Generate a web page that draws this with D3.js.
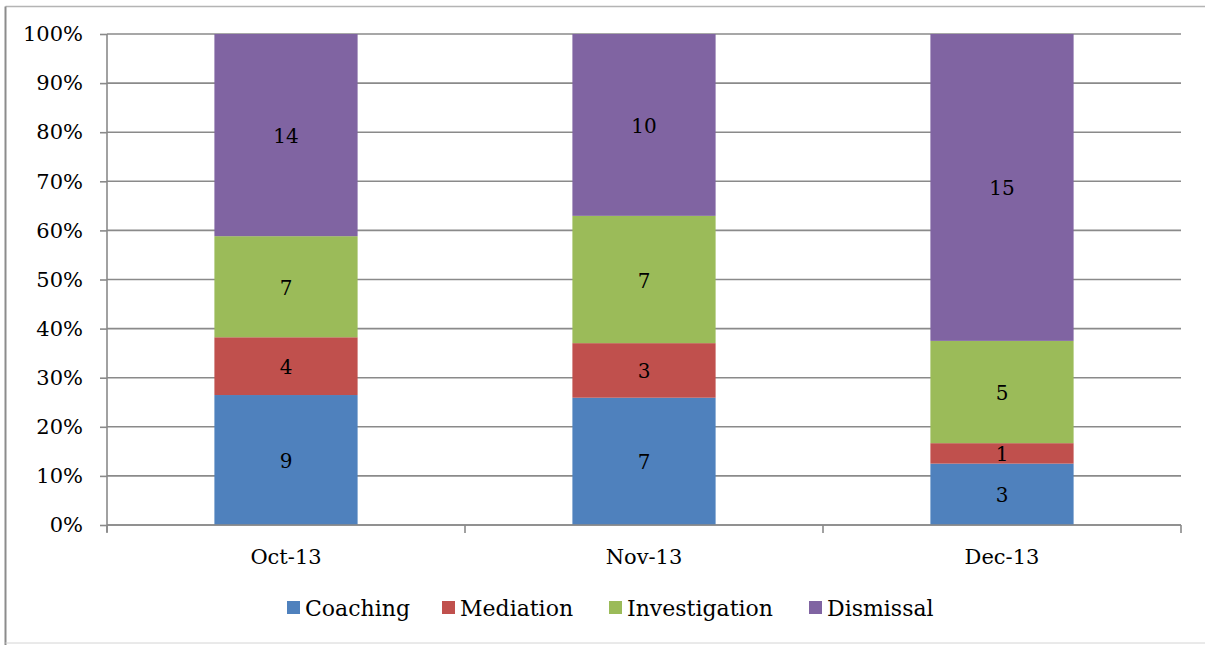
<!DOCTYPE html>
<html>
<head>
<meta charset="utf-8">
<script src="https://cdn.jsdelivr.net/npm/d3@7"></script>
<style>
  html, body { margin: 0; padding: 0; background: #fff; }
  svg { display: block; }
</style>
</head>
<body>
<svg id="chart" width="1205" height="645"></svg>
<script>
// Monthly case outcomes, shown as a 100% stacked column chart
const months = ["Oct-13", "Nov-13", "Dec-13"];
const seriesNames = ["Coaching", "Mediation", "Investigation", "Dismissal"];
const coaching = [9, 7, 3];
const mediation = [4, 3, 1];
const investigation = [7, 7, 5];
const dismissal = [14, 10, 15];
const seriesColors = ["#4F81BD", "#C0504D", "#9BBB59", "#8064A2"];
const yTicks = [0, 0.1, 0.2, 0.3, 0.4, 0.5, 0.6, 0.7, 0.8, 0.9, 1.0];

const FONT = "'DejaVu Serif', 'Liberation Serif', serif";

const seriesValues = [coaching, mediation, investigation, dismissal];
const rows = months.map((m, i) => {
  const r = { month: m };
  seriesNames.forEach((s, j) => { r[s] = seriesValues[j][i]; });
  return r;
});

const svg = d3.select("#chart");
const W = 1205, H = 645;
const plot = { left: 107, right: 1181, top: 34, bottom: 525 };
const GRID = "#8a8a8a";

// outer chart frame
svg.append("line").attr("x1", 5.5).attr("x2", W).attr("y1", 6.5).attr("y2", 6.5)
  .attr("stroke", "#b4b4b4").attr("stroke-width", 1.5);
svg.append("line").attr("x1", 5.5).attr("x2", 5.5).attr("y1", 6.5).attr("y2", H)
  .attr("stroke", "#8c8c8c").attr("stroke-width", 2);
svg.append("line").attr("x1", 5.5).attr("x2", W).attr("y1", 643).attr("y2", 643)
  .attr("stroke", "#d4d4d4").attr("stroke-width", 1);

const x = d3.scaleBand().domain(months).range([plot.left, plot.right]).paddingInner(0.6).paddingOuter(0.3);
const y = d3.scaleLinear().domain([0, 1]).range([plot.bottom, plot.top]);

// horizontal gridlines
svg.append("g").selectAll("line").data(yTicks).join("line")
  .attr("x1", plot.left).attr("x2", plot.right)
  .attr("y1", d => y(d)).attr("y2", d => y(d))
  .attr("stroke", GRID).attr("stroke-width", 1.6);

// stacked, normalised bars
const stack = d3.stack().keys(seriesNames).offset(d3.stackOffsetExpand);
const layers = stack(rows);

svg.append("g").selectAll("g").data(layers).join("g")
  .attr("fill", (d, i) => seriesColors[i])
  .selectAll("rect").data(d => d).join("rect")
  .attr("x", d => x(d.data.month))
  .attr("width", x.bandwidth())
  .attr("y", d => y(d[1]))
  .attr("height", d => y(d[0]) - y(d[1]));

// value labels inside each segment
layers.forEach(layer => {
  svg.append("g").selectAll("text").data(layer).join("text")
    .attr("x", d => x(d.data.month) + x.bandwidth() / 2)
    .attr("y", d => (y(d[0]) + y(d[1])) / 2)
    .attr("dy", "0.4em")
    .attr("text-anchor", "middle")
    .style("font-family", FONT)
    .style("font-size", "20px")
    .attr("fill", "#000")
    .text(d => d.data[layer.key]);
});

// y axis
const yAxis = d3.axisLeft(y).tickValues(yTicks).tickFormat(d3.format(".0%")).tickSize(7).tickPadding(17);
const yg = svg.append("g").attr("transform", `translate(${plot.left},0)`).call(yAxis);
yg.select(".domain").attr("stroke", GRID).attr("stroke-width", 1.6).attr("d", `M0,${plot.top}V${plot.bottom + 7}`);
yg.selectAll(".tick line").attr("stroke", GRID).attr("stroke-width", 1.6);
yg.selectAll(".tick text").style("font-family", FONT).style("font-size", "21px").attr("fill", "#000");

// x axis baseline with category boundary ticks
const xg = svg.append("g");
xg.append("line").attr("x1", plot.left).attr("x2", plot.right)
  .attr("y1", plot.bottom).attr("y2", plot.bottom)
  .attr("stroke", GRID).attr("stroke-width", 1.6);
const bounds = [plot.left].concat(months.map(m => x(m) + x.bandwidth() / 2 + x.step() / 2));
xg.selectAll("line.b").data(bounds).join("line").attr("class", "b")
  .attr("x1", d => d).attr("x2", d => d)
  .attr("y1", plot.bottom).attr("y2", plot.bottom + 8)
  .attr("stroke", GRID).attr("stroke-width", 1.6);
xg.selectAll("text").data(months).join("text")
  .attr("x", d => x(d) + x.bandwidth() / 2)
  .attr("y", 564)
  .attr("text-anchor", "middle")
  .style("font-family", FONT)
  .style("font-size", "21px")
  .attr("fill", "#000")
  .text(d => d);

// legend
const legendX = [287, 442, 609, 809];
const lg = svg.append("g");
seriesNames.forEach((name, i) => {
  lg.append("rect").attr("x", legendX[i]).attr("y", 601).attr("width", 13).attr("height", 13)
    .attr("fill", seriesColors[i]);
  lg.append("text").attr("x", legendX[i] + 18).attr("y", 616)
    .style("font-family", FONT)
    .style("font-size", "22px")
    .attr("fill", "#000")
    .text(name);
});
</script>
</body>
</html>
